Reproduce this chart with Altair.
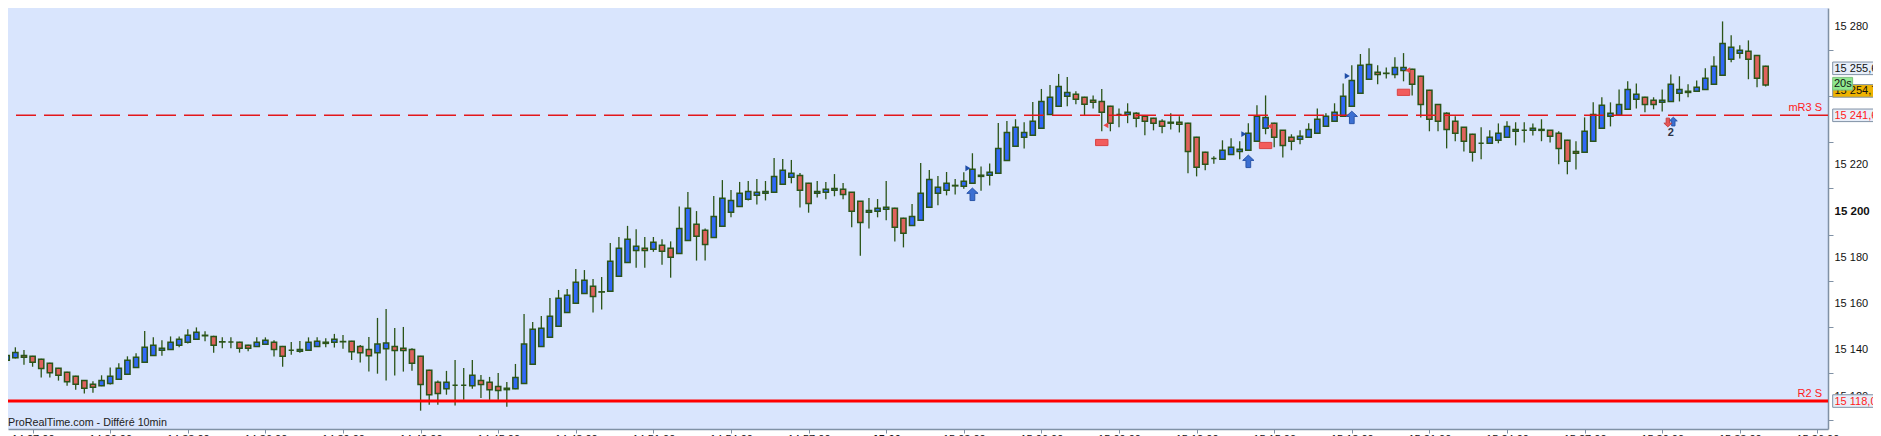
import altair as alt
import pandas as pd

# ---------------- data ----------------
opens = [15135.7, 15136.8, 15137.8, 15137.4, 15136.1, 15134.4, 15132.2, 15130.5, 15128.8, 15127.0,
         15125.3, 15124.7, 15125.6, 15127.5, 15129.6, 15132.6, 15134.8, 15137.8, 15140.0, 15140.4,
         15142.2, 15143.5, 15144.8, 15146.3, 15146.0, 15143.6, 15143.6, 15143.5, 15142.2, 15141.7,
         15142.6, 15143.5, 15141.7, 15140.0, 15139.6, 15140.0, 15141.7, 15143.0, 15143.5, 15143.7,
         15143.9, 15141.7, 15140.4, 15139.0, 15140.7, 15141.7, 15140.9, 15140.4, 15137.4, 15131.4,
         15126.2, 15123.4, 15124.9, 15124.9, 15124.7, 15127.0, 15126.2, 15124.4, 15123.0, 15123.4,
         15125.6, 15134.0, 15141.7, 15145.6, 15150.4, 15156.4, 15160.3, 15164.6, 15167.7, 15165.2,
         15165.5, 15172.0, 15178.0, 15183.2, 15184.1, 15183.7, 15185.4, 15184.1, 15181.9, 15187.5,
         15194.5, 15191.9, 15188.8, 15193.6, 15199.7, 15202.2, 15205.3, 15207.0, 15207.9, 15208.3,
         15211.8, 15214.8, 15215.6, 15212.2, 15207.9, 15208.3, 15209.2, 15209.6, 15208.3, 15204.4,
         15199.7, 15200.1, 15201.0, 15201.4, 15197.1, 15194.0, 15196.2, 15201.8, 15207.9, 15209.2,
         15211.1, 15210.9, 15212.2, 15215.2, 15215.7, 15216.5, 15222.1, 15228.2, 15232.1, 15233.0,
         15236.0, 15242.0, 15245.5, 15249.8, 15250.7, 15249.4, 15248.1, 15247.6, 15245.5, 15242.0,
         15242.0, 15242.5, 15241.2, 15240.3, 15239.0, 15238.2, 15238.6, 15238.2, 15232.1, 15225.6,
         15222.9, 15222.6, 15224.7, 15226.0, 15226.5, 15230.4, 15236.0, 15238.2, 15235.1, 15232.1,
         15231.2, 15232.1, 15233.8, 15236.9, 15239.0, 15241.2, 15245.5, 15251.1, 15257.2, 15260.2,
         15259.7, 15259.3, 15261.0, 15261.5, 15258.5, 15252.4, 15246.3, 15242.5, 15239.0, 15236.4,
         15233.4, 15229.5, 15229.5, 15230.8, 15232.1, 15234.7, 15235.1, 15235.1, 15235.1, 15235.1,
         15233.8, 15230.8, 15226.0, 15225.6, 15230.4, 15236.0, 15241.2, 15241.6, 15244.2, 15248.5,
         15249.4, 15248.1, 15247.2, 15247.6, 15251.1, 15251.5, 15252.0, 15252.8, 15255.0, 15258.9,
         15265.8, 15268.4, 15269.3, 15267.5, 15262.8]
highs = [15139.1, 15141.3, 15140.1, 15137.6, 15136.3, 15134.6, 15132.4, 15130.7, 15129.0, 15127.2,
         15126.6, 15129.2, 15132.6, 15134.4, 15137.4, 15138.7, 15148.3, 15145.6, 15144.3, 15146.0,
         15146.0, 15149.1, 15149.9, 15148.2, 15146.3, 15145.6, 15145.6, 15143.7, 15142.4, 15145.6,
         15145.6, 15144.3, 15141.9, 15143.6, 15144.0, 15145.6, 15145.6, 15145.2, 15147.1, 15146.6,
         15144.1, 15142.3, 15145.8, 15154.0, 15157.9, 15149.7, 15150.1, 15140.9, 15137.6, 15131.6,
         15126.9, 15131.1, 15135.8, 15132.4, 15135.8, 15129.3, 15128.5, 15130.2, 15126.3, 15134.1,
         15155.7, 15152.2, 15154.8, 15162.6, 15166.1, 15166.5, 15175.2, 15174.7, 15170.8, 15171.7,
         15186.4, 15189.0, 15193.8, 15192.3, 15189.0, 15189.0, 15188.0, 15187.1, 15202.2, 15208.4,
         15200.2, 15192.7, 15206.7, 15213.6, 15209.3, 15212.8, 15213.2, 15214.1, 15213.2, 15223.1,
         15222.7, 15222.3, 15216.7, 15212.4, 15213.2, 15212.8, 15216.2, 15212.3, 15208.5, 15204.6,
         15205.9, 15205.4, 15213.2, 15201.6, 15197.3, 15203.3, 15221.0, 15218.0, 15215.4, 15217.1,
         15214.1, 15217.0, 15225.2, 15219.5, 15220.8, 15238.3, 15239.1, 15239.9, 15238.6, 15247.4,
         15253.0, 15254.7, 15259.5, 15258.2, 15252.0, 15249.6, 15250.2, 15253.0, 15245.7, 15244.6,
         15246.8, 15242.9, 15241.4, 15240.5, 15239.9, 15242.5, 15241.2, 15238.4, 15232.3, 15225.8,
         15223.9, 15230.8, 15231.7, 15230.4, 15238.2, 15245.9, 15250.2, 15238.4, 15235.3, 15233.4,
         15235.1, 15238.2, 15244.6, 15242.5, 15246.8, 15255.4, 15263.2, 15268.1, 15270.6, 15263.2,
         15262.3, 15266.7, 15268.5, 15261.7, 15258.7, 15252.6, 15246.5, 15242.9, 15241.2, 15236.6,
         15233.6, 15236.4, 15235.1, 15238.1, 15239.0, 15238.6, 15238.6, 15238.1, 15239.9, 15235.3,
         15234.7, 15231.0, 15230.4, 15240.7, 15247.2, 15249.4, 15247.2, 15252.8, 15256.3, 15255.4,
         15249.6, 15249.4, 15252.8, 15259.3, 15258.5, 15255.0, 15256.7, 15261.9, 15267.1, 15282.2,
         15276.2, 15271.9, 15274.0, 15267.7, 15263.0]
lows = [15135.2, 15136.5, 15133.8, 15132.9, 15128.2, 15128.2, 15126.9, 15124.7, 15123.0, 15121.3,
        15121.7, 15124.5, 15125.2, 15127.3, 15129.4, 15132.4, 15134.6, 15137.6, 15137.7, 15140.2,
        15141.3, 15143.0, 15144.6, 15143.9, 15139.0, 15140.9, 15140.9, 15139.0, 15139.6, 15141.5,
        15142.4, 15137.3, 15132.9, 15138.1, 15139.0, 15139.8, 15141.5, 15141.3, 15141.2, 15140.7,
        15135.8, 15134.7, 15130.8, 15129.9, 15126.9, 15129.1, 15130.8, 15131.2, 15113.9, 15116.5,
        15116.5, 15120.8, 15116.1, 15118.6, 15123.4, 15119.4, 15118.6, 15118.6, 15115.6, 15123.2,
        15125.4, 15133.8, 15141.5, 15145.4, 15150.2, 15156.2, 15160.1, 15164.4, 15156.3, 15157.6,
        15165.3, 15171.8, 15177.8, 15175.7, 15175.7, 15182.6, 15177.0, 15171.4, 15181.7, 15187.3,
        15178.8, 15178.8, 15188.6, 15193.4, 15197.5, 15202.0, 15204.8, 15203.0, 15204.8, 15208.1,
        15211.6, 15212.2, 15201.7, 15199.5, 15206.1, 15205.3, 15206.6, 15205.3, 15193.2, 15180.9,
        15192.7, 15197.5, 15196.2, 15187.0, 15184.5, 15193.8, 15196.0, 15201.6, 15202.7, 15207.0,
        15207.4, 15209.9, 15212.0, 15209.0, 15211.3, 15216.3, 15221.9, 15228.0, 15227.3, 15232.8,
        15235.8, 15241.8, 15245.3, 15245.5, 15246.4, 15241.6, 15244.6, 15234.7, 15234.7, 15236.4,
        15238.2, 15236.4, 15233.0, 15235.1, 15233.8, 15235.5, 15234.2, 15216.5, 15215.2, 15217.8,
        15220.7, 15222.4, 15224.5, 15222.6, 15226.3, 15230.2, 15233.4, 15227.8, 15223.4, 15226.5,
        15229.1, 15231.9, 15233.6, 15236.7, 15238.8, 15241.0, 15245.3, 15250.9, 15257.0, 15255.0,
        15257.5, 15257.6, 15256.3, 15250.2, 15240.7, 15234.7, 15234.7, 15227.3, 15230.4, 15226.0,
        15221.6, 15222.6, 15229.3, 15229.5, 15231.9, 15228.6, 15229.9, 15232.9, 15230.4, 15229.9,
        15220.4, 15216.1, 15218.2, 15225.4, 15230.2, 15235.8, 15236.8, 15241.4, 15244.0, 15244.5,
        15242.9, 15244.2, 15243.3, 15247.4, 15247.6, 15249.4, 15251.8, 15252.6, 15254.8, 15258.7,
        15264.5, 15266.2, 15257.2, 15253.7, 15254.1]
closes = [15137.8, 15139.1, 15137.0, 15134.8, 15132.1, 15130.3, 15129.2, 15126.4, 15125.3, 15123.6,
          15124.0, 15127.0, 15128.8, 15132.2, 15135.7, 15137.0, 15141.3, 15142.2, 15140.9, 15143.5,
          15144.8, 15146.5, 15147.8, 15146.5, 15142.2, 15143.7, 15143.6, 15140.9, 15140.9, 15143.5,
          15144.3, 15140.4, 15137.4, 15140.0, 15140.4, 15143.5, 15143.9, 15143.5, 15144.8, 15143.8,
          15139.4, 15139.0, 15137.7, 15142.7, 15143.2, 15139.9, 15139.9, 15134.4, 15125.2, 15120.8,
          15121.3, 15126.2, 15124.9, 15124.9, 15129.2, 15125.2, 15123.0, 15122.6, 15123.6, 15128.3,
          15142.7, 15149.1, 15149.5, 15154.7, 15162.5, 15163.8, 15169.4, 15170.3, 15163.3, 15165.3,
          15178.5, 15184.1, 15188.0, 15185.0, 15183.2, 15186.7, 15182.8, 15180.2, 15192.7, 15201.4,
          15189.3, 15185.8, 15197.9, 15205.7, 15204.8, 15207.9, 15208.7, 15208.3, 15208.7, 15215.2,
          15217.8, 15216.5, 15209.2, 15203.5, 15208.7, 15209.6, 15210.0, 15207.4, 15200.1, 15195.3,
          15200.5, 15201.4, 15201.8, 15193.2, 15190.6, 15197.9, 15207.9, 15213.9, 15210.5, 15212.2,
          15211.3, 15213.1, 15218.3, 15215.7, 15217.0, 15227.3, 15234.2, 15236.4, 15234.2, 15239.0,
          15247.6, 15249.4, 15254.1, 15251.5, 15248.5, 15246.4, 15247.2, 15242.9, 15238.2, 15242.0,
          15242.9, 15240.3, 15239.0, 15238.2, 15236.9, 15238.6, 15237.7, 15226.0, 15219.1, 15220.4,
          15222.9, 15226.5, 15227.8, 15226.9, 15233.8, 15241.2, 15240.7, 15232.1, 15228.6, 15230.4,
          15232.5, 15235.5, 15239.9, 15241.2, 15242.9, 15249.8, 15256.7, 15263.2, 15263.6, 15259.3,
          15259.8, 15262.3, 15262.3, 15255.0, 15246.3, 15239.9, 15239.0, 15235.5, 15233.8, 15230.4,
          15225.6, 15229.5, 15232.1, 15233.8, 15236.8, 15235.5, 15235.1, 15236.0, 15235.5, 15232.5,
          15227.3, 15221.7, 15225.2, 15234.7, 15242.0, 15245.9, 15242.5, 15246.3, 15252.8, 15250.7,
          15246.3, 15246.3, 15248.1, 15255.0, 15252.8, 15252.0, 15253.7, 15257.6, 15262.8, 15272.7,
          15271.0, 15269.7, 15265.8, 15257.6, 15254.75]

x_tick_values = [4, 13, 22, 31, 40, 49, 58, 67, 76, 85, 94, 103, 112, 121, 130, 139, 148, 157,
                 166, 175, 184, 193, 202, 211]
x_tick_labels = ["14:27:00", "14:30:00", "14:33:00", "14:36:00", "14:39:00", "14:42:00",
                 "14:45:00", "14:48:00", "14:51:00", "14:54:00", "14:57:00", "15:00",
                 "15:03:00", "15:06:00", "15:09:00", "15:12:00", "15:15:00", "15:18:00",
                 "15:21:00", "15:24:00", "15:27:00", "15:30:00", "15:33:00", "15:36:00"]
y_tick_values = [15110, 15120, 15130, 15140, 15150, 15160, 15170, 15180, 15190, 15200,
                 15210, 15220, 15230, 15240, 15250, 15260, 15270, 15280]
y_labeled = [15120, 15140, 15160, 15180, 15200, 15220, 15280]
y_bold = 15200

level_names = ["mR3 S", "R2 S"]
level_values = [15241.60, 15118.07]

quote_values = [15255.69, 15254.75]
timer_text = "20s"
footer_text = "ProRealTime.com - Différé 10min"

up_idx = [113, 145, 157]
up_price = [15207.45, 15221.7, 15240.7]
tri_r_idx = [113, 145, 157]
tri_r_price = [15218.7, 15233.5, 15258.6]
tri_l_idx = [129, 148, 164]
tri_l_price = [15237.3, 15236.85, 15261.1]
flag_idx = [128, 147, 163]
flag_price = [15229.85, 15228.55, 15251.55]
pair_idx = [194]
pair_up_price = [15238.9]
pair_down_price = [15238.5]
pair_count = ["2"]
pair_count_price = [15234.0]

# ---------------- styles ----------------
BLUE = "#3068f7"
RED = "#e0625d"
EDGE = "#2b5418"
AXIS = "#8091a5"
BG = "#d9e5fd"
FONT = "Liberation Sans"
W, H = 1820, 421

xs = alt.Scale(domain=[1.727, 211.65], nice=False, zero=False)
ys = alt.Scale(domain=[15105.98, 15288.0], nice=False, zero=False)

df = pd.DataFrame({"i": list(range(1, len(opens) + 1)), "open": opens, "high": highs,
                   "low": lows, "close": closes})

x_label_expr = "[" + ",".join("'%s'" % s for s in x_tick_labels) + "][round((datum.value - 4) / 9)]"

x_axis = alt.Axis(values=x_tick_values, labelExpr=x_label_expr, title=None, grid=False,
                  tickSize=4, tickColor=AXIS, domainColor=AXIS, domainWidth=1.5, tickWidth=1,
                  labelFont=FONT, labelFontSize=11, labelColor="#111", labelPadding=0,
                  labelOverlap=False, labelFlush=False,
                  labelFontWeight={"condition": {"test": "datum.value == 103", "value": "bold"},
                                   "value": "normal"})
y_axis = alt.Axis(orient="right", values=y_tick_values, labels=False, title=None,
                  grid=False, tickSize=5, tickColor=AXIS, domainColor=AXIS, domainWidth=1.5,
                  tickWidth=1)

base = alt.Chart(df)
wicks = base.mark_rule(color=EDGE, strokeWidth=1.3, clip=True).encode(
    x=alt.X("i:Q", scale=xs, axis=x_axis),
    y=alt.Y("low:Q", scale=ys, axis=y_axis),
    y2="high:Q",
)
bodies = base.mark_bar(size=5.2, stroke=EDGE, strokeWidth=1.5, clip=True).encode(
    x=alt.X("i:Q", scale=xs),
    y=alt.Y("open:Q", scale=ys),
    y2="close:Q",
    fill=alt.condition("datum.close >= datum.open", alt.value(BLUE), alt.value(RED)),
)

# y tick labels drawn as text next to the right axis
ylab_base = alt.Chart(pd.DataFrame({"v": y_labeled})).transform_calculate(
    label="replace(format(datum.v, ','), ',', ' ')")
ylab_normal = ylab_base.transform_filter("datum.v != %d" % y_bold).mark_text(
    align="left", baseline="middle", font=FONT, fontSize=11, color="#111").encode(
    x=alt.value(W + 6.5), y=alt.Y("v:Q", scale=ys), text="label:N")
ylab_bold = ylab_base.transform_filter("datum.v == %d" % y_bold).mark_text(
    align="left", baseline="middle", font=FONT, fontSize=11.5, fontWeight="bold",
    color="#111").encode(
    x=alt.value(W + 6.5), y=alt.Y("v:Q", scale=ys), text="label:N")

lv = pd.DataFrame({"name": level_names, "value": level_values})
mr3 = alt.Chart(lv.iloc[[0]]).mark_rule(color="#e3171b", strokeWidth=1.5, strokeDash=[20, 8]).encode(
    y=alt.Y("value:Q", scale=ys))
r2 = alt.Chart(lv.iloc[[1]]).mark_rule(color="#ff0000", strokeWidth=3).encode(
    y=alt.Y("value:Q", scale=ys))
level_text = alt.Chart(lv).mark_text(align="right", baseline="alphabetic", dx=-6, dy=-4,
                                     font=FONT, fontSize=11, color="#ff1a1a").encode(
    x=alt.value(W), y=alt.Y("value:Q", scale=ys), text="name:N")

BOX = "M0,-1H8.9V1H0Z"


def price_box(value, fill, text_color, y_off):
    d = pd.DataFrame({"value": [value]})
    box = alt.Chart(d).mark_point(shape=BOX, size=158, filled=True, fill=fill, stroke=AXIS,
                                  strokeWidth=1, opacity=1, yOffset=y_off).encode(
        x=alt.value(W + 4.7), y=alt.Y("value:Q", scale=ys))
    txt = alt.Chart(d).transform_calculate(
        label="replace(replace(format(datum.value, ',.2f'), ',', ' '), '.', ',')"
    ).mark_text(align="left", baseline="middle", font=FONT, fontSize=11, color=text_color,
                yOffset=y_off + 0.5).encode(
        x=alt.value(W + 6.5), y=alt.Y("value:Q", scale=ys), text="label:N")
    return [box, txt]


layers_right = []
layers_right += price_box(quote_values[0], "#e7eef9", "#111", -14.4)
layers_right += price_box(quote_values[1], "#efb300", "#111", 6)
layers_right += price_box(level_values[0], "#e7eef9", "#ff1a1a", 0)
layers_right += price_box(level_values[1], "#e7eef9", "#ff1a1a", 0)

timer_df = pd.DataFrame({"value": [quote_values[1]], "t": [timer_text]})
timer_box = alt.Chart(timer_df).mark_point(shape="M0,-1H3.15V1H0Z", size=160, filled=True,
                                           fill="#8fe88f", stroke="#7fbf7f", strokeWidth=1,
                                           opacity=1, yOffset=-1.2).encode(
    x=alt.value(W + 4.7), y=alt.Y("value:Q", scale=ys))
timer_txt = alt.Chart(timer_df).mark_text(align="left", baseline="middle", font=FONT,
                                          fontSize=11, color="#111", yOffset=-0.8).encode(
    x=alt.value(W + 6), y=alt.Y("value:Q", scale=ys), text="t:N")

footer = alt.Chart(pd.DataFrame({"t": [footer_text]})).mark_text(
    align="left", baseline="alphabetic", font=FONT, fontSize=10.75, color="#222").encode(
    x=alt.value(0), y=alt.value(H - 3), text="t:N")

UP = "M0,-1L0.9,-0.15L0.38,-0.15L0.38,1L-0.38,1L-0.38,-0.15L-0.9,-0.15Z"
DOWN = "M0,1L0.9,0.15L0.38,0.15L0.38,-1L-0.38,-1L-0.38,0.15L-0.9,0.15Z"
FLAG = "M-1,-0.5H1V0.5H-1Z"

ups = alt.Chart(pd.DataFrame({"i": up_idx, "p": up_price})).mark_point(
    shape=UP, size=156, filled=True, fill="#3b6fd2", stroke="#2a55a8", strokeWidth=1,
    opacity=1).encode(x=alt.X("i:Q", scale=xs), y=alt.Y("p:Q", scale=ys))
tri_r = alt.Chart(pd.DataFrame({"i": tri_r_idx, "p": tri_r_price})).mark_point(
    shape="triangle-right", size=34, filled=True, fill="#1f4ea8", opacity=1, xOffset=-4.5).encode(
    x=alt.X("i:Q", scale=xs), y=alt.Y("p:Q", scale=ys))
tri_l = alt.Chart(pd.DataFrame({"i": tri_l_idx, "p": tri_l_price})).mark_point(
    shape="triangle-left", size=34, filled=True, fill="#e84848", opacity=1, xOffset=-4.5).encode(
    x=alt.X("i:Q", scale=xs), y=alt.Y("p:Q", scale=ys))
flags = alt.Chart(pd.DataFrame({"i": flag_idx, "p": flag_price})).mark_point(
    shape=FLAG, size=154, filled=True, fill="#f25c5c", stroke="#d84444", strokeWidth=1,
    opacity=1).encode(x=alt.X("i:Q", scale=xs), y=alt.Y("p:Q", scale=ys))
pair_df = pd.DataFrame({"i": pair_idx, "pu": pair_up_price, "pd": pair_down_price,
                        "c": pair_count, "pc": pair_count_price})
pair_up = alt.Chart(pair_df).mark_point(
    shape=UP, size=76, filled=True, fill="#3b6fd2", stroke="#2a55a8", strokeWidth=1,
    opacity=1, xOffset=2.5).encode(x=alt.X("i:Q", scale=xs), y=alt.Y("pu:Q", scale=ys))
pair_down = alt.Chart(pair_df).mark_point(
    shape=DOWN, size=76, filled=True, fill="#e85656", stroke="#c24040", strokeWidth=1,
    opacity=1, xOffset=-3).encode(x=alt.X("i:Q", scale=xs), y=alt.Y("pd:Q", scale=ys))
pair_txt = alt.Chart(pair_df).mark_text(font=FONT, fontSize=11, fontWeight="bold",
                                        color="#2c3345", baseline="middle").encode(
    x=alt.X("i:Q", scale=xs), y=alt.Y("pc:Q", scale=ys), text="c:N")

chart = alt.layer(
    wicks, bodies, mr3, r2, level_text, flags, ups, tri_r, tri_l, pair_up, pair_down, pair_txt,
    footer, ylab_normal, ylab_bold, *layers_right, timer_box, timer_txt,
).properties(
    width=W, height=H, autosize="none",
    padding={"left": 0, "top": 0, "right": 45, "bottom": 7},
    background="#ffffff",
).configure_view(fill=BG, strokeWidth=0)

chart.save("out.html", embed_options={"renderer": "svg", "actions": False})
